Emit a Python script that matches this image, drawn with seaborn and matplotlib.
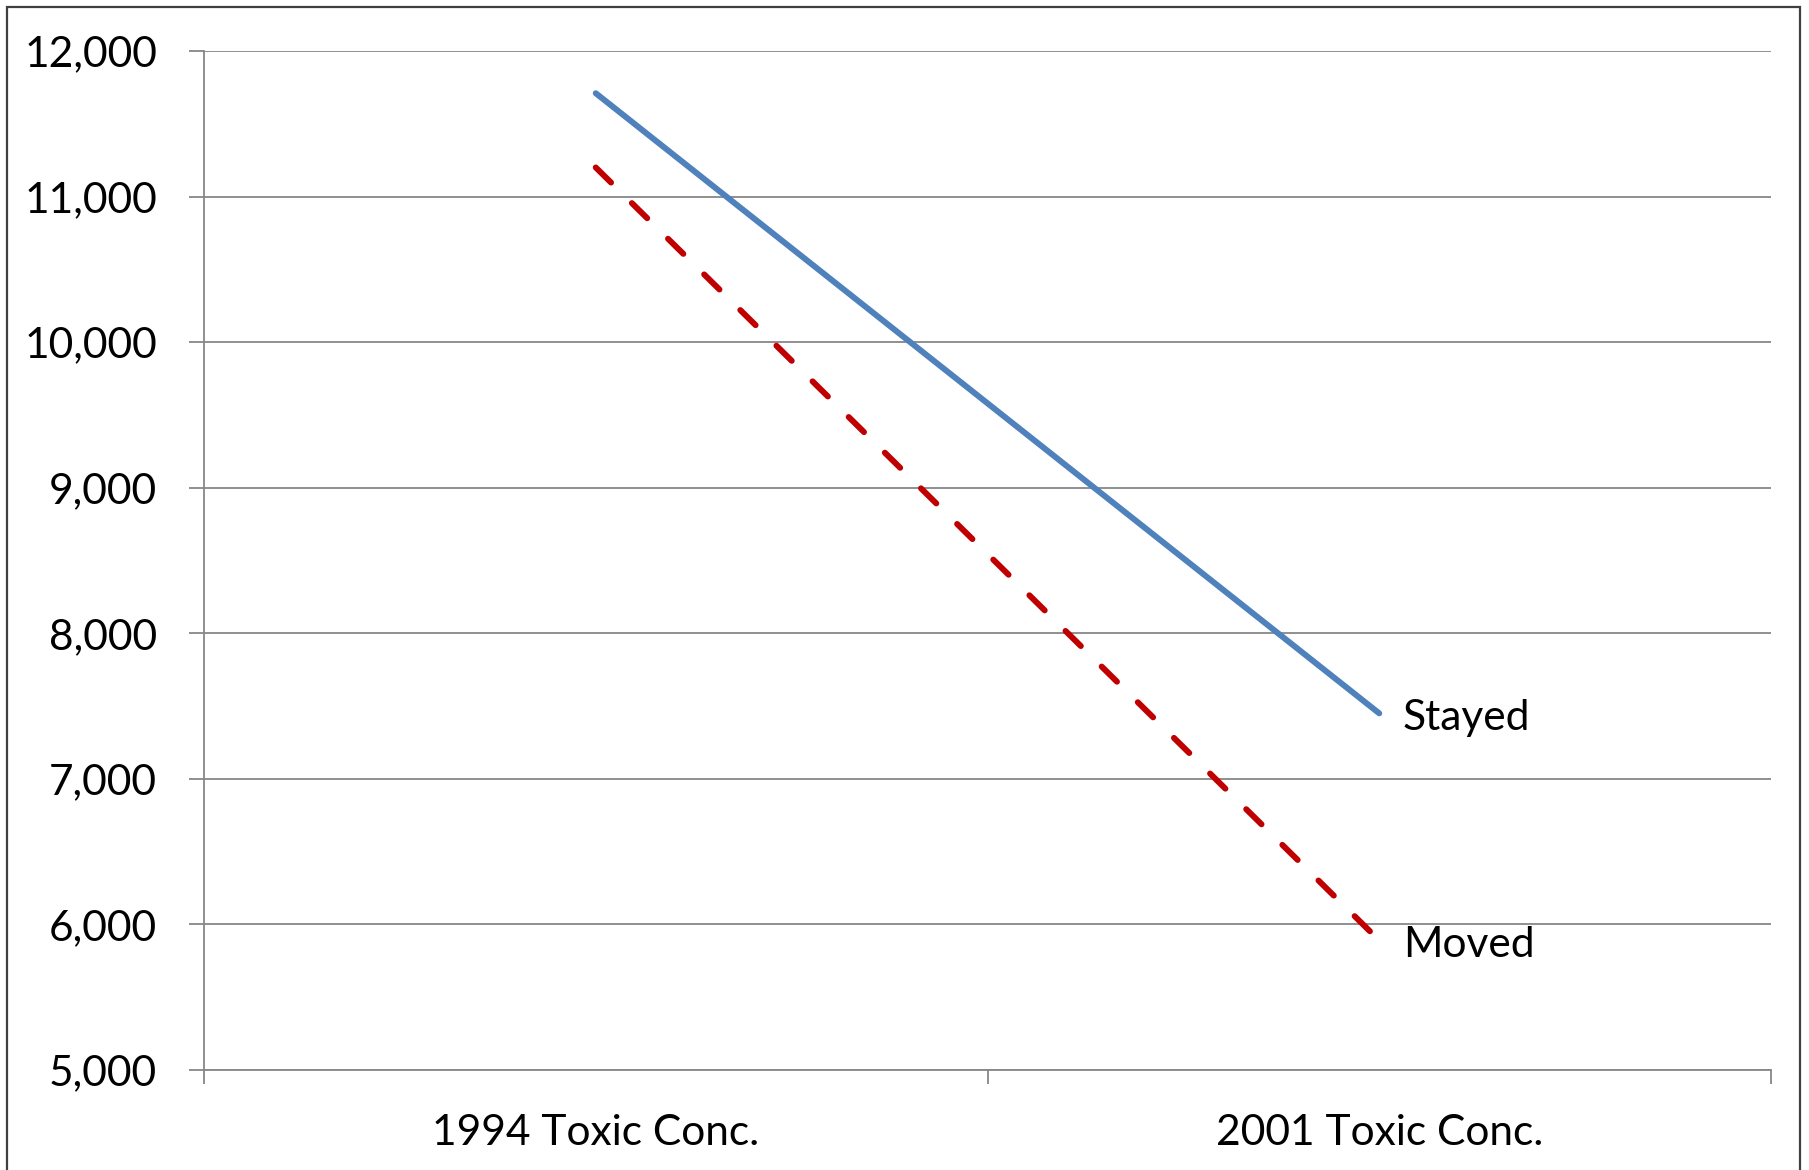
import matplotlib
matplotlib.use("Agg")
import matplotlib.pyplot as plt
import seaborn as sns
import pandas as pd
from matplotlib.patches import Rectangle
from matplotlib.ticker import FixedLocator, FuncFormatter

categories = ["1994 Toxic Conc.", "2001 Toxic Conc."]
stayed = [11710, 7450]
moved = [11200, 5890]
series_names = ["Stayed", "Moved"]
y_ticks = [5000, 6000, 7000, 8000, 9000, 10000, 11000, 12000]

df = pd.DataFrame({
    "period": categories * 2,
    "value": stayed + moved,
    "group": [series_names[0]] * 2 + [series_names[1]] * 2,
})

sns.set_theme(style="white")
plt.rcParams['font.family'] = ['Lato', 'DejaVu Sans']

fig = plt.figure(figsize=(18.09, 11.70), dpi=100)
ax = fig.add_axes([204/1809, 1 - 1070/1170, (1771-204)/1809, (1070-51)/1170])

grid_c = "#878787"
for yv in y_ticks:
    ax.axhline(yv, color=grid_c, lw=1.3, zorder=0)

sns.lineplot(data=df, x="period", y="value", hue="group", style="group",
             palette={"Stayed": "#4F81BD", "Moved": "#C00000"},
             dashes={"Stayed": "", "Moved": (3.6, 4.9)},
             linewidth=4.3, legend=False, ax=ax, sort=False)
for ln in ax.lines:
    ln.set_solid_capstyle("round")
    ln.set_dash_capstyle("round")

ax.set_xlim(-0.5, 1.5)
ax.set_ylim(5000, 12000)
ax.set_xlabel("")
ax.set_ylabel("")

fs = 30.6
ax.yaxis.set_major_locator(FixedLocator(y_ticks))
ax.yaxis.set_major_formatter(FuncFormatter(lambda v, p: f"{int(v):,}"))
ax.tick_params(axis="y", which="major", direction="out", length=10.8, width=1.3,
               color=grid_c, pad=23, labelsize=fs, labelcolor="black", left=True)

ax.set_xticks([0, 1])
ax.set_xticklabels(categories)
ax.xaxis.set_minor_locator(FixedLocator([-0.5, 0.5, 1.5]))
ax.tick_params(axis="x", which="major", length=0, pad=32, labelsize=fs, labelcolor="black")
ax.tick_params(axis="x", which="minor", direction="out", length=10, width=1.3,
               color=grid_c, bottom=True)

for s in ["top", "right"]:
    ax.spines[s].set_visible(False)
for s in ["left", "bottom"]:
    ax.spines[s].set_color(grid_c)
    ax.spines[s].set_linewidth(1.3)

# end labels
for name, vals in zip(series_names, [stayed, moved]):
    ax.annotate(name, xy=(1, vals[1]), xytext=(17, -3), textcoords="offset points",
                fontsize=fs, va="center", ha="left", color="black")

# outer border
fig.patches.append(Rectangle((7/1809, -0.02), (1800-7)/1809, 1 - 7/1170 + 0.02,
                             transform=fig.transFigure, fill=False,
                             edgecolor="#404040", linewidth=1.6))

fig.savefig("out.png", dpi=100, facecolor="white")
